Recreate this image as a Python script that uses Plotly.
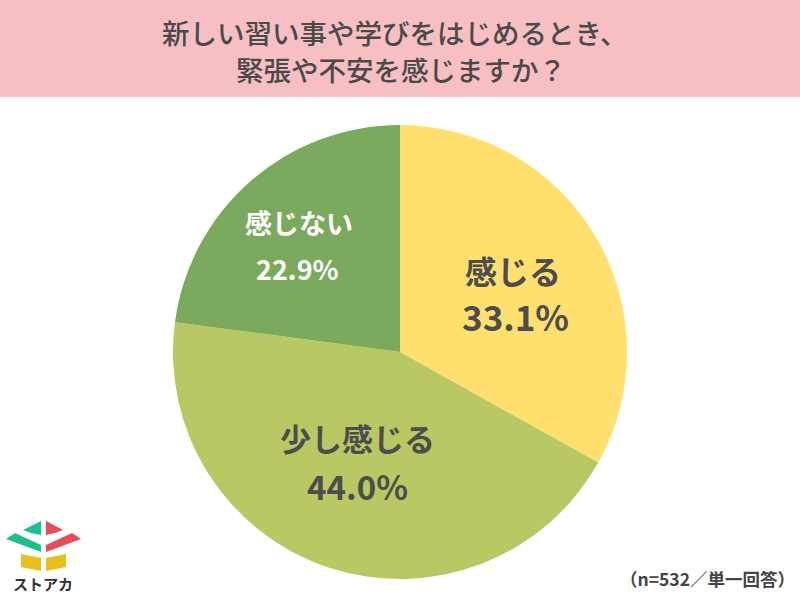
import plotly.graph_objects as go

labels = ["感じる", "少し感じる", "感じない"]
values = [33.1, 44.0, 22.9]
colors = ["#FFE06E", "#B9C862", "#7BAA5F"]
text_colors = ["#4D4D4D", "#4D4D4D", "#FFFFFF"]
title_lines = ["新しい習い事や学びをはじめるとき、", "緊張や不安を感じますか？"]
footnote = "（n=532／単一回答）"
logo_text = "ストアカ"

W, H = 800, 600
FONT = "Noto Sans CJK JP"

fig = go.Figure()
fig.add_trace(go.Pie(
    labels=labels, values=values, sort=False, direction="clockwise", rotation=0,
    marker=dict(colors=colors, line=dict(width=0)),
    textinfo="none", hoverinfo="label+percent", showlegend=False,
    domain=dict(x=[173 / W, 627 / W], y=[(H - 579) / H, (H - 125) / H]),
))

def ann(px, py, text, size, color, weight="bold", xanchor="center"):
    fig.add_annotation(x=px / W, y=1 - py / H, xref="paper", yref="paper", showarrow=False,
                       xanchor=xanchor, yanchor="middle", text=text,
                       font=dict(family=FONT, size=size, color=color, weight=weight))

# (label x, label y, label size, pct x, pct y, pct size)
label_layout = [(513, 270, 32, 515, 316, 35),
                (357, 437, 31, 357, 486, 33),
                (299, 222, 27, 297, 268, 27)]
for lab, val, tc, (lx, ly, ls, vx, vy, vs) in zip(labels, values, text_colors, label_layout):
    ann(lx, ly, lab, ls, tc)
    ann(vx, vy, f"{val:.1f}%", vs, tc)

shapes = [dict(type="rect", xref="paper", yref="paper", x0=0, x1=1, y0=1 - 97 / H, y1=1,
               fillcolor="#F7BFC4", line=dict(width=0), layer="below")]

def path(pts, color):
    d = "M " + " L ".join(f"{x / W},{1 - y / H}" for x, y in pts) + " Z"
    return dict(type="path", xref="paper", yref="paper", path=d, fillcolor=color, line=dict(width=0))

teal, red, yellow = "#1DBF8E", "#E84B5A", "#E9BF1C"
shapes += [
    path([(23, 530), (41, 521), (41, 535), (31, 533)], teal),
    path([(6, 539), (15, 533), (41, 545), (41, 552)], teal),
    path([(46, 521), (63, 530), (55, 533), (46, 535)], red),
    path([(46, 545), (72, 533), (81, 539), (46, 552)], red),
    path([(21, 554), (41, 558), (41, 571), (21, 567)], yellow),
    path([(46, 558), (66, 554), (66, 567), (46, 571)], yellow),
]
fig.update_layout(shapes=shapes)

ann(395, 32, title_lines[0], 27.5, "#4A4A4A", weight=500)
ann(401, 69, title_lines[1], 27.5, "#4A4A4A", weight=500)
ann(797, 578, footnote, 17.5, "#444444", xanchor="right")
ann(43, 583, logo_text, 15, "#333333")

fig.update_layout(width=W, height=H, margin=dict(l=0, r=0, t=0, b=0),
                  paper_bgcolor="white", plot_bgcolor="white")
fig.write_html("out.html", config={"displayModeBar": False},
               post_script="document.body.style.margin='0';document.body.style.padding='0';")
